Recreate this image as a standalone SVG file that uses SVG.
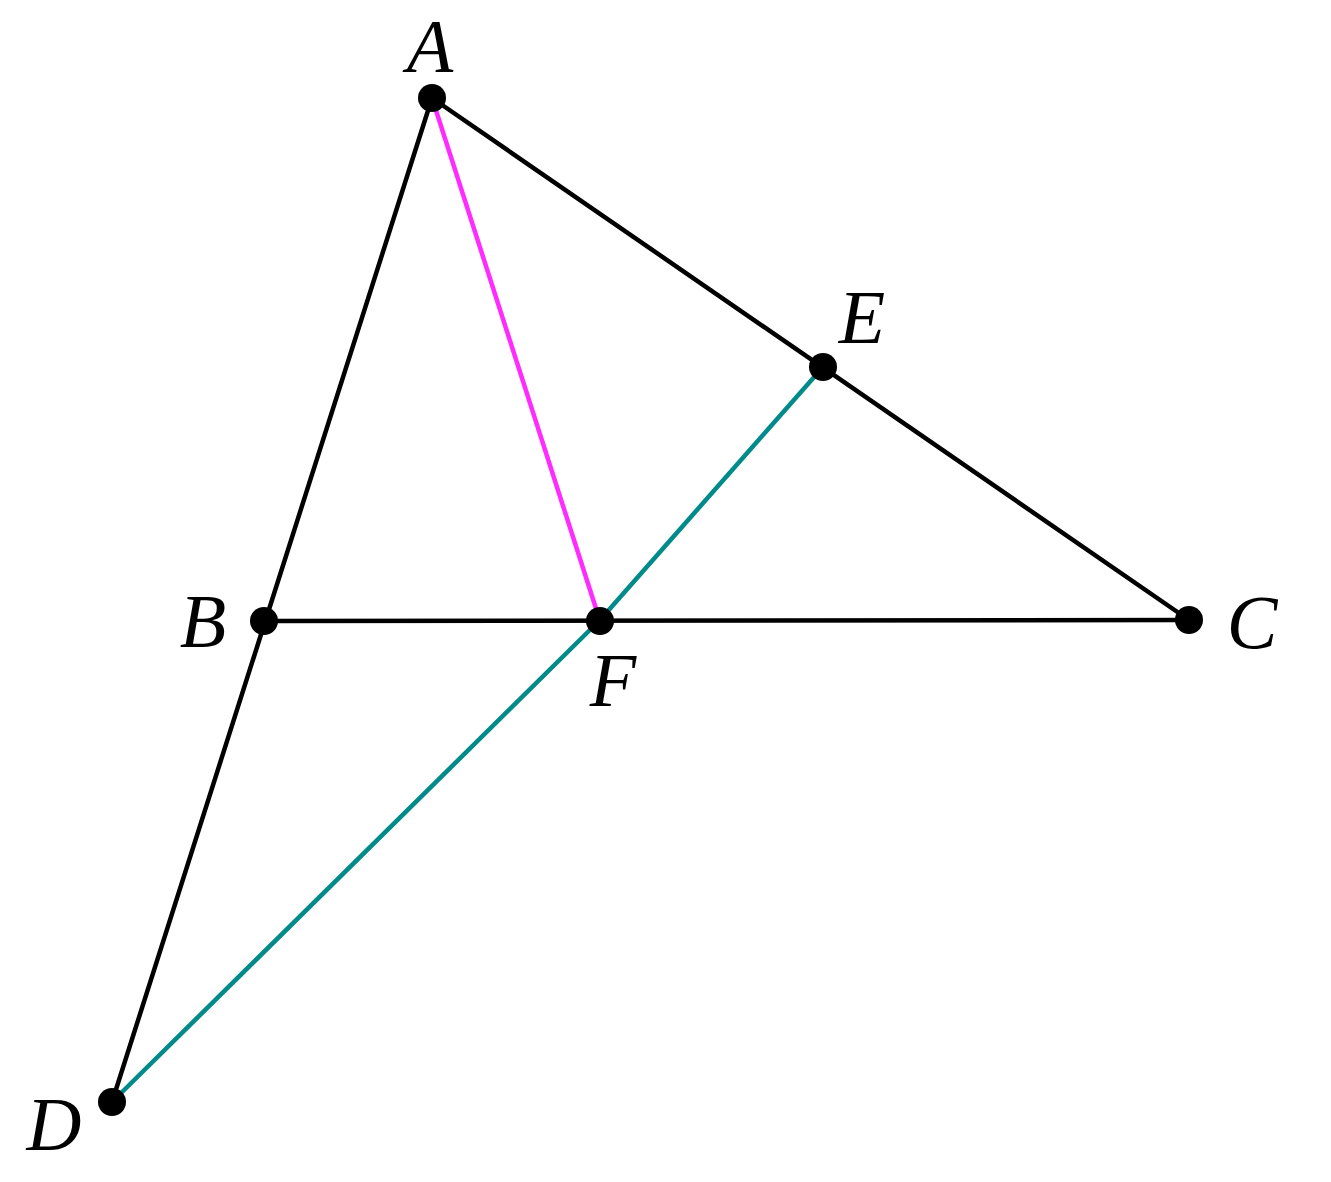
<svg xmlns="http://www.w3.org/2000/svg" width="1331" height="1182" viewBox="0 0 1331 1182">
<style>
.ln{stroke:#000;stroke-width:4.5;fill:none;stroke-linecap:round}
.mg{stroke:#ff2bff;stroke-width:4.5;fill:none}
.tl{stroke:#008a8a;stroke-width:4.5;fill:none;stroke-linejoin:round}
.pt{fill:#000}
.lb{font-family:"Liberation Serif","Times New Roman","DejaVu Serif",serif;font-style:italic;font-size:76px;fill:#000;text-anchor:middle}
</style>
<rect width="1331" height="1182" fill="#fff"/>
<g id="connectors">
<line class="ln" x1="432" y1="98" x2="112" y2="1102"/>
<line class="ln" x1="432" y1="98" x2="1189" y2="620"/>
<line class="ln" x1="264" y1="621" x2="1189" y2="620"/>
<line class="mg" x1="432" y1="98" x2="600" y2="621"/>
<polyline class="tl" points="112,1102 600,620 823,367"/>
</g>
<g id="A"><circle class="pt" cx="432" cy="98" r="14"/><text class="lb" x="430" y="72">A</text></g>
<g id="B"><circle class="pt" cx="264" cy="621" r="14"/><text class="lb" x="203" y="647">B</text></g>
<g id="C"><circle class="pt" cx="1189" cy="620" r="14"/><text class="lb" x="1252" y="648">C</text></g>
<g id="D"><circle class="pt" cx="112" cy="1102" r="14"/><text class="lb" x="54" y="1150">D</text></g>
<g id="E"><circle class="pt" cx="823" cy="367" r="14"/><text class="lb" x="862" y="343">E</text></g>
<g id="F"><circle class="pt" cx="600" cy="621" r="14"/><text class="lb" x="613" y="706">F</text></g>
</svg>
